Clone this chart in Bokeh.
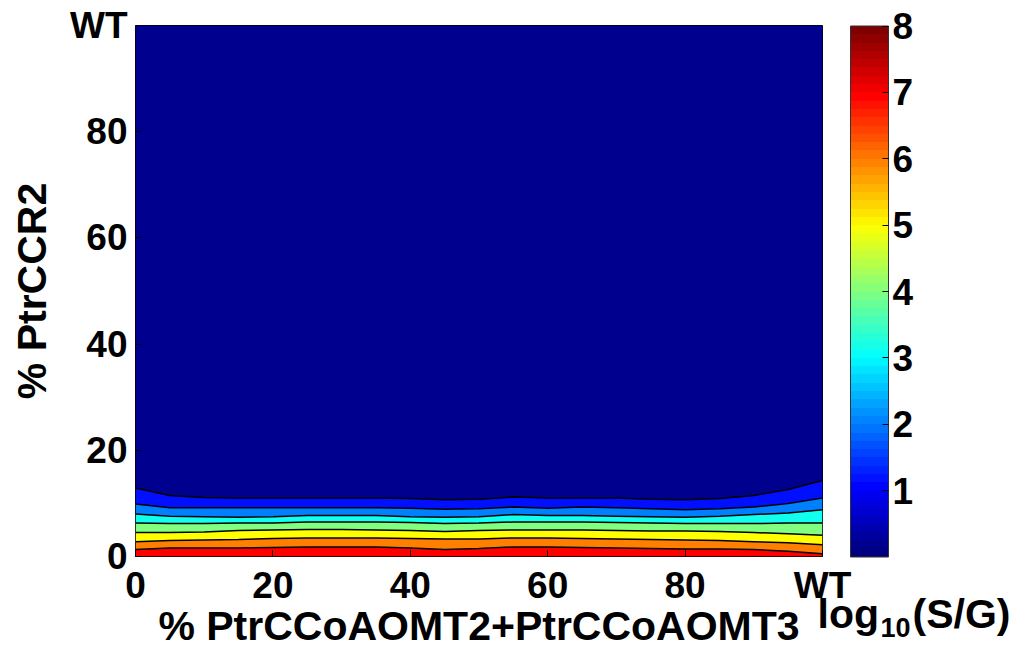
import numpy as np
from bokeh.plotting import figure
from bokeh.models import LinearColorMapper, ColorBar, FixedTicker, Range1d, Title
from bokeh.embed import file_html
from bokeh.resources import INLINE

# ---- data ----
x_pct = [0, 5, 10, 15, 20, 25, 30, 35, 40, 45, 50, 55, 60, 65, 70, 75, 80, 85, 90, 95, 100]
# y (% PtrCCR2) where log10(S/G) crosses each contour level
level_1 = [12.9, 11.5, 11.1, 11.0, 11.0, 11.0, 11.0, 11.0, 10.9, 10.7, 10.8, 11.2, 11.0, 11.0, 11.0, 10.8, 10.7, 10.9, 11.5, 12.6, 14.3]
level_2 = [9.9, 9.2, 9.2, 9.2, 9.2, 9.2, 9.2, 9.2, 9.1, 8.9, 9.0, 9.3, 9.1, 9.3, 9.2, 9.0, 8.8, 9.0, 9.3, 10.0, 11.0]
level_3 = [8.0, 7.6, 7.5, 7.4, 7.5, 7.7, 7.7, 7.7, 7.5, 7.4, 7.5, 7.9, 7.7, 7.7, 7.6, 7.5, 7.4, 7.6, 7.9, 8.2, 8.8]
level_4 = [6.3, 6.2, 6.2, 6.3, 6.3, 6.5, 6.5, 6.5, 6.4, 6.2, 6.3, 6.5, 6.5, 6.5, 6.4, 6.3, 6.2, 6.2, 6.2, 6.3, 6.3]
level_5 = [4.5, 4.5, 4.6, 4.9, 5.0, 5.1, 5.1, 5.0, 4.9, 4.7, 4.9, 5.0, 5.0, 5.0, 4.9, 4.8, 4.8, 4.7, 4.5, 4.3, 4.0]
level_6 = [2.8, 3.0, 3.1, 3.2, 3.4, 3.5, 3.5, 3.5, 3.4, 3.3, 3.3, 3.5, 3.5, 3.4, 3.3, 3.2, 3.1, 3.0, 2.8, 2.6, 2.2]
level_7 = [1.3, 1.6, 1.6, 1.6, 1.7, 1.8, 1.8, 1.8, 1.6, 1.3, 1.5, 1.8, 1.8, 1.7, 1.6, 1.5, 1.4, 1.4, 1.3, 1.0, 0.5]

band_colors = ["#00008F", "#0010FF", "#0080FF", "#10FFEF", "#80FF80", "#FFFF00", "#FF8000", "#FF0000"]

axis_ticks = [0, 20, 40, 60, 80, 100]
axis_tick_labels = ["0", "20", "40", "60", "80", "WT"]
cbar_ticks = [1, 2, 3, 4, 5, 6, 7, 8]
cbar_low, cbar_high = 0, 8

x_title = "% PtrCCoAOMT2+PtrCCoAOMT3"
y_title = "% PtrCCR2"
cbar_title_parts = ["log", "10", "(S/G)"]

FONT = "Liberation Sans"
FS_TICK = "37px"
FS_TITLE = "41px"

def jet(n):
    out = []
    for i in range(n):
        t = i / (n - 1)
        r = np.clip(1.5 - abs(4 * t - 3), 0, 1)
        g = np.clip(1.5 - abs(4 * t - 2), 0, 1)
        b = np.clip(1.5 - abs(4 * t - 1), 0, 1)
        out.append("#%02x%02x%02x" % (int(r * 255), int(g * 255), int(b * 255)))
    return out

p = figure(width=1016, height=651, output_backend="svg", toolbar_location=None,
           x_range=Range1d(0, 100), y_range=Range1d(0, 100),
           min_border_left=135, min_border_right=194, min_border_top=25, min_border_bottom=95)
p.background_fill_color = "white"
p.border_fill_color = "white"
p.outline_line_color = "black"
p.outline_line_width = 1
p.grid.visible = False

top = [100] * len(x_pct)
bottom = [0] * len(x_pct)
bounds = [top, level_1, level_2, level_3, level_4, level_5, level_6, level_7, bottom]
for i, col in enumerate(band_colors):
    p.varea(x=x_pct, y1=bounds[i + 1], y2=bounds[i], fill_color=col, fill_alpha=1)
for b in bounds[1:-1]:
    p.line(x=x_pct, y=b, line_color="black", line_width=1.5)

for ax in (p.xaxis[0], p.yaxis[0]):
    ax.ticker = FixedTicker(ticks=axis_ticks)
    ax.major_label_overrides = dict(zip(axis_ticks, axis_tick_labels))
    ax.major_tick_in = 6
    ax.major_tick_out = 0
    ax.minor_tick_line_color = None
    ax.axis_line_color = None
    ax.major_tick_line_color = "black"
    ax.major_label_text_font = FONT
    ax.major_label_text_font_size = FS_TICK
    ax.major_label_text_font_style = "bold"
    ax.major_label_text_color = "black"
    ax.axis_label_text_font = FONT
    ax.axis_label_text_font_size = FS_TITLE
    ax.axis_label_text_font_style = "bold"
    ax.axis_label_text_color = "black"

p.xaxis[0].axis_label = x_title
p.xaxis[0].major_label_standoff = 8
p.xaxis[0].axis_label_standoff = -6
p.yaxis[0].axis_label = y_title
p.yaxis[0].major_label_standoff = 8
p.yaxis[0].axis_label_standoff = 12

mapper = LinearColorMapper(palette=jet(64), low=cbar_low, high=cbar_high)
cb = ColorBar(color_mapper=mapper, ticker=FixedTicker(ticks=cbar_ticks), width=38, height=531,
              location="center_left", padding=28, margin=0, label_standoff=4,
              major_label_text_font=FONT, major_label_text_font_size=FS_TICK,
              major_label_text_font_style="bold", major_label_text_color="black",
              major_tick_in=6, major_tick_out=0, major_tick_line_color="black",
              bar_line_color="#333333", bar_line_width=1,
              background_fill_alpha=0, border_line_alpha=0)
p.add_layout(cb, "right")

# colour-bar caption log10(S/G), placed in the lower panel beside the x-axis title
cap_specs = [(682, -122, FS_TITLE), (745, -68, "27px"), (777, -122, FS_TITLE)]
for txt, (off, so, fs) in zip(cbar_title_parts, cap_specs):
    p.add_layout(Title(text=txt, align="left", vertical_align="top", offset=off, standoff=so,
                       text_font=FONT, text_font_size=fs, text_font_style="bold",
                       text_color="black"), "below")

open("out.html", "w").write(file_html(p, INLINE))
